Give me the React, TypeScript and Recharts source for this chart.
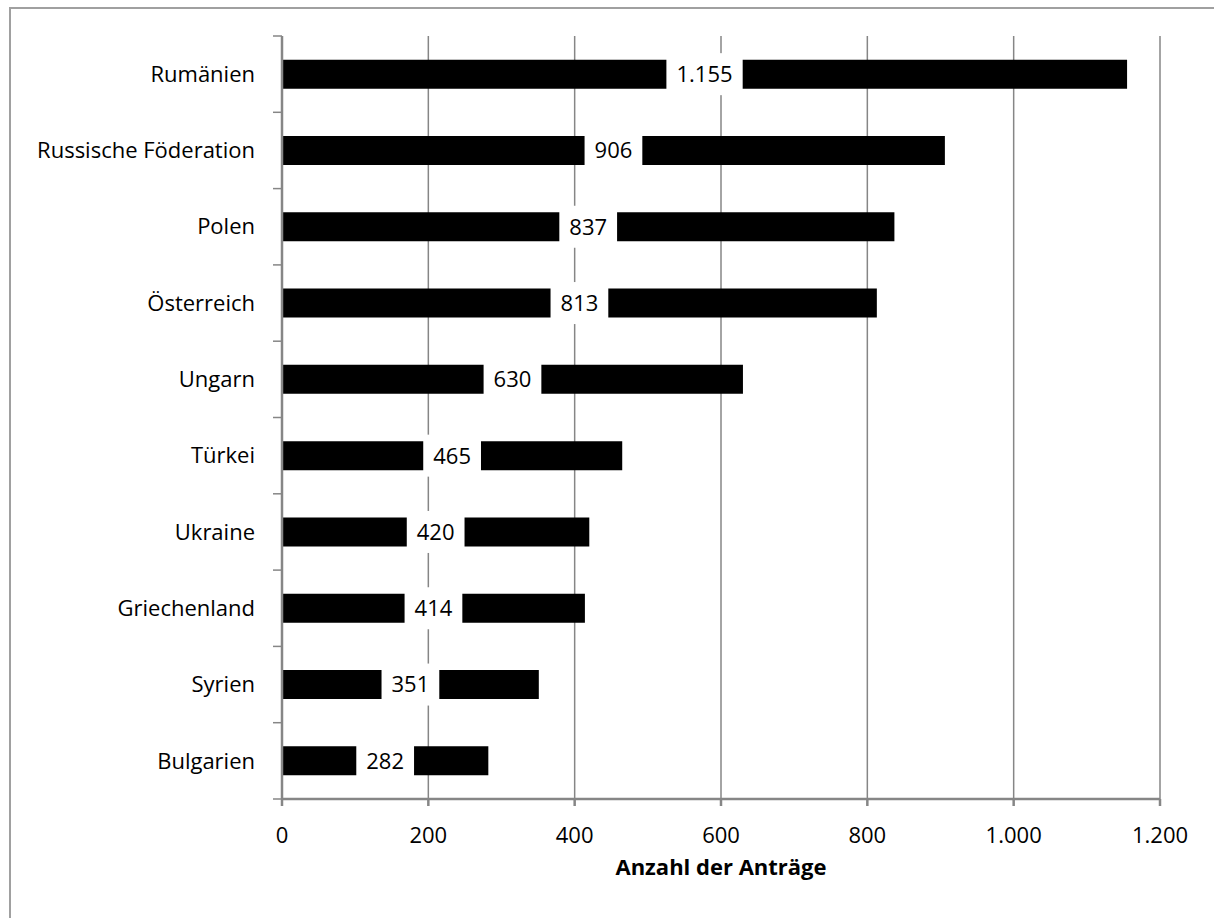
import React from "react"
import { Bar, BarChart, CartesianGrid, LabelList, XAxis, YAxis } from "recharts"

const countries = [
  "Rumänien",
  "Russische Föderation",
  "Polen",
  "Österreich",
  "Ungarn",
  "Türkei",
  "Ukraine",
  "Griechenland",
  "Syrien",
  "Bulgarien",
]
const antraege = [1155, 906, 837, 813, 630, 465, 420, 414, 351, 282]
const xTicks = [0, 200, 400, 600, 800, 1000, 1200]

const data = countries.map((name, i) => ({ name, value: antraege[i] }))

const FONT = "'Open Sans', sans-serif"
const AXIS = "#868686"

// 1155 -> "1.155"
function fmt(n: number) {
  return String(n).replace(/\B(?=(\d{3})+(?!\d))/g, ".")
}

function textWidth(s: string) {
  let w = 0
  for (const c of s) w += c === "." ? 0.27 : 0.572
  return w * 22
}

function CategoryTick(props: any) {
  const { x, y, payload, index, visibleTicksCount } = props
  const half = payload?.offset || 38.15
  return (
    <g>
      <line x1={x - 9} x2={x} y1={y - half} y2={y - half} stroke={AXIS} strokeWidth={1.5} />
      {index === visibleTicksCount - 1 && (
        <line x1={x - 9} x2={x} y1={y + half} y2={y + half} stroke={AXIS} strokeWidth={1.5} />
      )}
      <text x={x - 27} y={y} dy="0.35em" textAnchor="end" fontFamily={FONT} fontSize={22} fill="#000">
        {payload.value}
      </text>
    </g>
  )
}

function ValueLabel(props: any) {
  const { x, y, width, height, value } = props
  const s = fmt(value)
  const tw = textWidth(s) + 20
  const cx = x + width / 2
  const cy = y + height / 2
  return (
    <g>
      <rect x={cx - tw / 2} y={cy - 21} width={tw} height={42} fill="#fff" />
      <text x={cx} y={cy} dy="0.36em" textAnchor="middle" fontFamily={FONT} fontSize={22} fill="#000">
        {s}
      </text>
    </g>
  )
}

export default function App() {
  return (
    <div style={{ position: "absolute", left: 0, top: 0, width: 1214, height: 918, background: "#fff", overflow: "hidden" }}>
      <div
        style={{
          position: "absolute",
          left: 9,
          top: 7,
          width: 1300,
          height: 1000,
          borderLeft: "2px solid #a0a0a0",
          borderTop: "2px solid #a0a0a0",
        }}
      />
      <div style={{ position: "absolute", left: 0, top: 0 }}>
        <BarChart
          width={1214}
          height={918}
          data={data}
          layout="vertical"
          margin={{ top: 36, right: 54, bottom: 0, left: 0 }}
          barCategoryGap="31%"
        >
          <CartesianGrid horizontal={false} stroke={AXIS} strokeWidth={1.5} />
          <XAxis
            type="number"
            domain={[0, 1200]}
            ticks={xTicks}
            interval={0}
            tickFormatter={fmt}
            stroke={AXIS}
            strokeWidth={2.5}
            tickSize={7}
            tickMargin={21}
            height={119}
            tick={{ fill: "#000", fontFamily: FONT, fontSize: 22 }}
            label={{
              value: "Anzahl der Anträge",
              position: "insideBottom",
              offset: 43,
              fill: "#000",
              fontFamily: FONT,
              fontSize: 22,
              fontWeight: "bold",
            }}
          />
          <YAxis
            type="category"
            dataKey="name"
            width={282}
            stroke={AXIS}
            strokeWidth={2.5}
            tickLine={false}
            tickSize={0}
            tickMargin={0}
            interval={0}
            tick={<CategoryTick />}
          />
          <Bar dataKey="value" fill="#000" isAnimationActive={false}>
            <LabelList dataKey="value" content={<ValueLabel />} />
          </Bar>
        </BarChart>
      </div>
    </div>
  )
}
